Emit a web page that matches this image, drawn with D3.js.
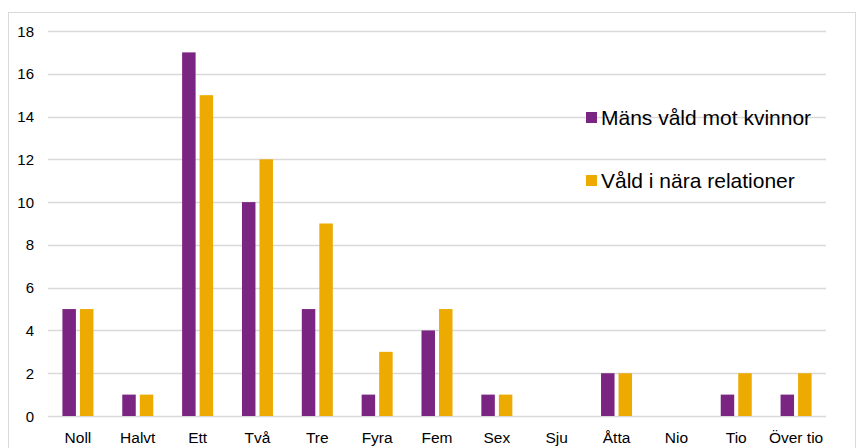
<!DOCTYPE html>
<html>
<head>
<meta charset="utf-8">
<script src="https://cdn.jsdelivr.net/npm/d3@7"></script>
<style>
  body { margin: 0; background: #fff; }
  text { font-family: "Liberation Sans", Arial, sans-serif; fill: #000; }
</style>
</head>
<body>
<script>
const categories = ['Noll', 'Halvt', 'Ett', 'Två', 'Tre', 'Fyra', 'Fem', 'Sex', 'Sju', 'Åtta', 'Nio', 'Tio', 'Över tio'];
const series = ['Mäns våld mot kvinnor', 'Våld i nära relationer'];
const mansVald = [5, 1, 17, 10, 5, 1, 4, 1, 0, 2, 0, 1, 1];
const naraRel = [5, 1, 15, 12, 9, 3, 5, 1, 0, 2, 0, 2, 2];
const yTicks = [0, 2, 4, 6, 8, 10, 12, 14, 16, 18];
const colors = ['#7b2582', '#edaa00'];

const width = 860, height = 448;
const svg = d3.select('body').append('svg')
  .attr('width', width)
  .attr('height', height);

// chart frame
svg.append('rect')
  .attr('x', 8.5).attr('y', 12.5)
  .attr('width', 847).attr('height', 445)
  .attr('fill', 'none')
  .attr('stroke', '#d9d9d9');

const x = d3.scaleBand().domain(categories).range([48, 826]);
const y = d3.scaleLinear().domain([0, 18]).range([416, 31]);
const groupW = 31;
const xs = d3.scaleBand().domain(series).range([0, groupW]).paddingInner(0.23);

// gridlines
svg.append('g')
  .selectAll('line')
  .data(yTicks)
  .enter().append('line')
  .attr('x1', 48).attr('x2', 826)
  .attr('y1', d => Math.round(y(d)) + 0.5)
  .attr('y2', d => Math.round(y(d)) + 0.5)
  .attr('stroke', '#d9d9d9')
  .attr('stroke-width', 1.3);

// y labels
svg.append('g')
  .selectAll('text')
  .data(yTicks)
  .enter().append('text')
  .attr('x', 34)
  .attr('y', d => y(d) + 5.5)
  .attr('text-anchor', 'end')
  .style('font-size', '15px')
  .text(d => d);

// bars
const rows = categories.map((c, i) => ({ cat: c, vals: [mansVald[i], naraRel[i]] }));
const groups = svg.append('g')
  .selectAll('g')
  .data(rows)
  .enter().append('g')
  .attr('transform', d => `translate(${x(d.cat) + (x.bandwidth() - groupW) / 2},0)`);

groups.selectAll('rect')
  .data(d => d.vals.map((v, i) => ({ s: series[i], v, i })))
  .enter().append('rect')
  .attr('x', d => xs(d.s))
  .attr('width', xs.bandwidth())
  .attr('y', d => y(d.v))
  .attr('height', d => y(0) - y(d.v))
  .attr('fill', d => colors[d.i]);

// x labels
svg.append('g')
  .selectAll('text')
  .data(categories)
  .enter().append('text')
  .attr('x', d => x(d) + x.bandwidth() / 2)
  .attr('y', 443)
  .attr('text-anchor', 'middle')
  .style('font-size', '15.5px')
  .text(d => d);

// legend
const legend = svg.append('g')
  .selectAll('g')
  .data(series)
  .enter().append('g')
  .attr('transform', (d, i) => `translate(586,${112 + i * 63})`);

legend.append('rect')
  .attr('width', 11).attr('height', 11)
  .attr('fill', (d, i) => colors[i]);

legend.append('text')
  .attr('x', 15)
  .attr('y', 12.5)
  .style('font-size', '21px')
  .text(d => d);
</script>
</body>
</html>
